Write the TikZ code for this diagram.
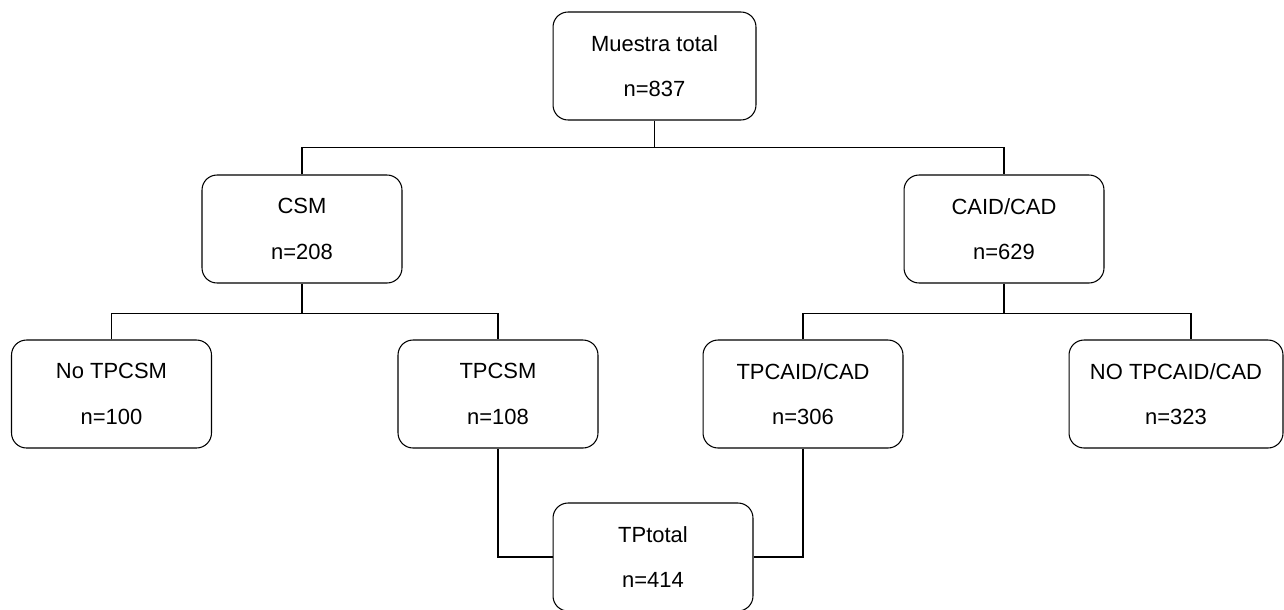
\documentclass[tikz,border=0pt]{standalone}
\usepackage{fontspec}
\setmainfont{Liberation Sans}
\usetikzlibrary{positioning, calc}
\tikzset{
  grupo/.style={
    draw, rounded corners=0.3cm, line width=0.6pt,
    minimum width=4cm, minimum height=2.16cm,
    % node text
    align=center, font=\fontsize{12.5}{26}\selectfont
  },
  rama/.style={
    line width=0.6pt
  }
}

\begin{document}
\begin{tikzpicture}[x=0.02cm, y=-0.02cm]
  \useasboundingbox (0,0) rectangle (1284,609);
  \node[grupo, minimum width=4.06cm] (total) at (654.5,66) {Muestra total\\n=837};
  \node[grupo] (csm) at (302,229) {CSM\\n=208};
  \node[grupo] (caid) at (1004,229) {CAID/CAD\\n=629};
  \node[grupo] (notpcsm) at (111.5,394) {No TPCSM\\n=100};
  \node[grupo] (tpcsm) at (498,394) {TPCSM\\n=108};
  \node[grupo] (tpcaid) at (803,394) {TPCAID/CAD\\n=306};
  \node[grupo, minimum width=4.28cm] (notpcaid) at (1176,394) {NO TPCAID/CAD\\n=323};
  \node[grupo] (tptotal) at (653,557) {TPtotal\\n=414};
  % first split
  \draw[rama] (total.south) -- ++(0,27) coordinate (j1);
  \draw[rama] (csm.north) |- (j1) -| (caid.north);
  % second split
  \draw[rama] (csm.south) -- ++(0,30) coordinate (j2);
  \draw[rama] (notpcsm.north) |- (j2) -| (tpcsm.north);
  \draw[rama] (caid.south) -- ++(0,30) coordinate (j3);
  \draw[rama] (tpcaid.north) |- (j3) -| ([xshift=0.3cm]notpcaid.north);
  % join
  \draw[rama] (tpcsm.south) |- (tptotal.west);
  \draw[rama] (tpcaid.south) |- (tptotal.east);
\end{tikzpicture}
\end{document}
